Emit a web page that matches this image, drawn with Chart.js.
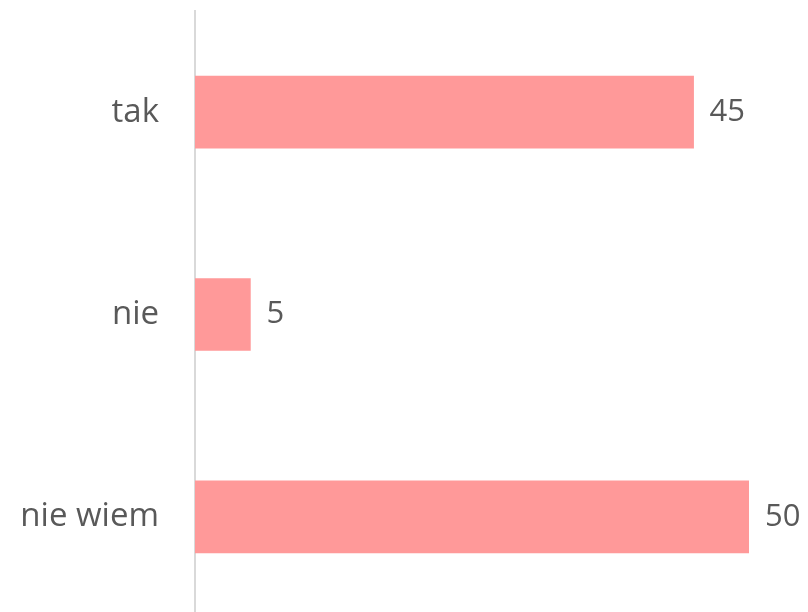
<!DOCTYPE html>
<html>
<head>
<meta charset="utf-8">
<script src="https://cdn.jsdelivr.net/npm/chart.js@4.4.1/dist/chart.umd.min.js"></script>
<style>
    html, body { margin: 0; padding: 0; background: #fff; overflow: hidden; }
    #wrap { width: 808px; height: 618px; }
</style>
</head>
<body>
<div id="wrap"><canvas id="chart"></canvas></div>
<script>
const categories = ['tak', 'nie', 'nie wiem'];
const values = [45, 5, 50];

const textColor = '#595959';
const fontFamily = '"Open Sans", "DejaVu Sans", sans-serif';

// etykiety wartości na końcu słupków
const valueLabels = {
    id: 'valueLabels',
    afterDatasetsDraw(chart) {
        const ctx = chart.ctx;
        const meta = chart.getDatasetMeta(0);
        ctx.save();
        ctx.font = '31px ' + fontFamily;
        ctx.fillStyle = textColor;
        ctx.textAlign = 'left';
        ctx.textBaseline = 'middle';
        meta.data.forEach((bar, i) => {
            ctx.fillText(String(values[i]), bar.x + 16, bar.y);
        });
        ctx.restore();
    }
};

new Chart(document.getElementById('chart').getContext('2d'), {
    type: 'bar',
    data: {
        labels: categories,
        datasets: [{
            data: values,
            backgroundColor: '#ff9999',
            borderWidth: 0,
            barThickness: 72
        }]
    },
    options: {
        indexAxis: 'y',
        responsive: true,
        maintainAspectRatio: false,
        animation: false,
        layout: { padding: { top: 11, right: 59, bottom: 0, left: 0 } },
        scales: {
            x: {
                display: false,
                min: 0,
                max: 50
            },
            y: {
                afterFit(scale) {
                    scale.width = 195;
                    scale.paddingTop = 0;
                    scale.paddingBottom = 0;
                },
                grid: { display: false, drawTicks: false },
                border: { display: true, color: '#d9d9d9', width: 2 },
                ticks: {
                    padding: 36,
                    color: textColor,
                    font: { family: fontFamily, size: 33 }
                }
            }
        },
        plugins: {
            legend: { display: false },
            tooltip: { enabled: false }
        }
    },
    plugins: [valueLabels]
});
</script>
</body>
</html>
